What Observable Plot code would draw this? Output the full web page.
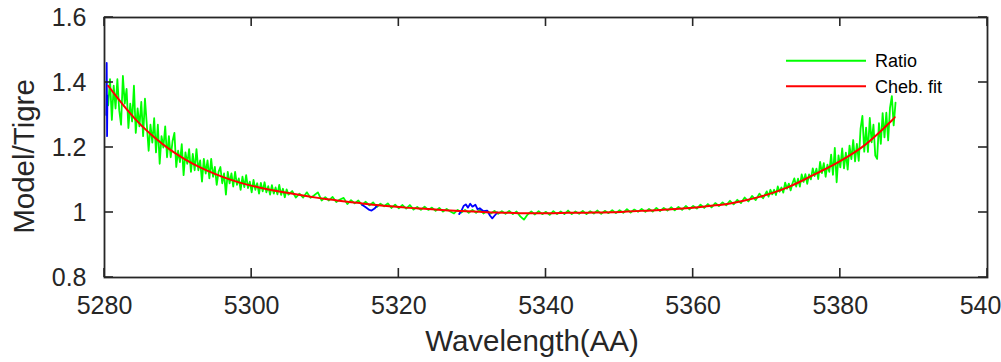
<!DOCTYPE html>
<html>
<head>
<meta charset="utf-8">
<script src="https://cdn.jsdelivr.net/npm/d3@7"></script>
<script src="https://cdn.jsdelivr.net/npm/@observablehq/plot@0.6"></script>
<style>
  html, body { margin: 0; padding: 0; background: #fff; overflow: hidden; }
  #chart { width: 1001px; height: 362px; }
</style>
</head>
<body>
<div id="chart"></div>
<script>
// ---- tick labels / axes ----
const xTicks = [5280, 5300, 5320, 5340, 5360, 5380, 5400];
const yTicks = [0.8, 1.0, 1.2, 1.4, 1.6];
const xLabel = "Wavelength(AA)";
const yLabel = "Model/Tigre";
const seriesNames = ["Ratio", "Cheb. fit"];

// ---- Ratio (green), three sampled stretches ----
// blue-end stretch: 5280.5 .. 5305.0, every 0.25 AA
const ratioLeftStart = 5280.5, ratioLeftStep = 0.25;
const ratioLeft = [
  1.33, 1.41, 1.285, 1.39, 1.32, 1.41, 1.315, 1.27, 1.42, 1.335,     // 5280.5
  1.38, 1.26, 1.335, 1.28, 1.39, 1.245, 1.32, 1.265, 1.34, 1.235,    // 5283.0
  1.35, 1.27, 1.19, 1.27, 1.215, 1.29, 1.185, 1.27, 1.15, 1.235,     // 5285.5
  1.20, 1.265, 1.17, 1.235, 1.17, 1.22, 1.245, 1.14, 1.19, 1.155,    // 5288.0
  1.21, 1.115, 1.185, 1.15, 1.195, 1.125, 1.18, 1.13, 1.195, 1.13,   // 5290.5
  1.16, 1.095, 1.165, 1.12, 1.16, 1.105, 1.165, 1.11, 1.14, 1.085,   // 5293.0
  1.125, 1.14, 1.09, 1.12, 1.055, 1.125, 1.09, 1.12, 1.08, 1.125,    // 5295.5
  1.085, 1.105, 1.07, 1.11, 1.078, 1.115, 1.075, 1.095, 1.062, 1.10, // 5298.0
  1.07, 1.09, 1.058, 1.091, 1.065, 1.093, 1.062, 1.081, 1.055, 1.084, // 5300.5
  1.058, 1.077, 1.056, 1.085, 1.054, 1.073, 1.047, 1.071, 1.055      // 5303.0
];
// middle stretch: 5305.5 .. 5369.5, every 0.5 AA
const ratioMidStart = 5305.5, ratioMidStep = 0.5;
const ratioMid = [
  1.066, 1.046, 1.058, 1.046, 1.062, 1.045, 1.053, 1.062, 1.037, 1.047, // 5305.5
  1.037, 1.048, 1.032, 1.040, 1.045, 1.026, 1.038, 1.028, 1.037, 1.023, // 5310.5
  1.033, 1.022, 1.031, 1.017, 1.027, 1.019, 1.028, 1.014, 1.024, 1.013, // 5315.5
  1.023, 1.012, 1.023, 1.009, 1.017, 1.008, 1.018, 1.008, 1.015, 1.005, // 5320.5
  1.014, 1.003, 1.011, 1.003, 0.997, 1.008, 1.0, 1.008, 0.999, 1.008,   // 5325.5
  0.999, 1.008, 0.997, 1.005, 0.997, 1.005, 0.996, 1.004, 0.996, 1.005, // 5330.5
  0.995, 1.003, 0.988, 0.978, 0.994, 1.003, 0.994, 1.004, 0.995, 1.002, // 5335.5
  0.993, 1.004, 0.995, 1.003, 0.995, 1.006, 0.995, 1.003, 0.996, 1.005, // 5340.5
  0.995, 1.004, 0.997, 1.006, 0.996, 1.005, 0.998, 1.007, 0.998, 1.007, // 5345.5
  0.999, 1.010, 1.0, 1.009, 1.002, 1.011, 1.002, 1.011, 1.003, 1.014,   // 5350.5
  1.004, 1.014, 1.006, 1.016, 1.007, 1.017, 1.008, 1.020, 1.010, 1.020, // 5355.5
  1.012, 1.024, 1.014, 1.026, 1.016, 1.029, 1.020, 1.031, 1.022, 1.036, // 5360.5
  1.025, 1.039, 1.029, 1.046, 1.034, 1.051, 1.038, 1.058, 1.044         // 5365.5
];
// red-end stretch: 5370.0 .. 5387.5, every 0.25 AA
const ratioRightStart = 5370.0, ratioRightStep = 0.25;
const ratioRight = [
  1.065, 1.049, 1.07, 1.056, 1.07, 1.054, 1.08, 1.064, 1.077, 1.061,   // 5370.0
  1.092, 1.073, 1.089, 1.068, 1.09, 1.105, 1.08, 1.104, 1.08, 1.117,   // 5372.5
  1.094, 1.118, 1.088, 1.117, 1.102, 1.136, 1.112, 1.135, 1.103, 1.156, // 5375.0
  1.121, 1.152, 1.11, 1.147, 1.125, 1.178, 1.116, 1.199, 1.093, 1.176, // 5377.5
  1.139, 1.197, 1.136, 1.184, 1.132, 1.206, 1.164, 1.223, 1.157, 1.211, // 5380.0
  1.159, 1.258, 1.297, 1.187, 1.261, 1.186, 1.291, 1.216, 1.27, 1.175, // 5382.5
  1.165, 1.275, 1.211, 1.306, 1.231, 1.307, 1.222, 1.322, 1.358, 1.268, // 5385.0
  1.338                                                                 // 5387.5
];

// ---- Masked points (blue), NaN separates segments ----
const maskWl  = [5280.25, 5280.3, 5280.35, 5280.4, NaN,
                 5315.0, 5315.5, 5316.0, 5316.3, 5316.7, 5317.0, NaN,
                 5328.2, 5328.5, 5328.8, 5329.1, 5329.4, 5329.7, 5330.0, 5330.4, 5330.7,
                 5331.0, 5331.5, 5332.0, 5332.4, 5332.7, 5333.0, 5333.4];
const maskVal = [1.30, 1.46, 1.235, 1.36, NaN,
                 1.024, 1.016, 1.008, 1.006, 1.012, 1.02, NaN,
                 0.995, 1.005, 1.02, 1.025, 1.015, 1.027, 1.018, 1.024, 1.01,
                 1.013, 1.004, 1.006, 0.99, 0.982, 0.99, 1.0];

// ---- Chebyshev fit (red) ----
const fitWl  = [5280.5, 5281, 5283, 5285, 5287, 5289, 5291, 5293, 5295, 5297, 5299,
                5301, 5303, 5305, 5307, 5309, 5311, 5313, 5315, 5317, 5319,
                5321, 5323, 5325, 5327, 5329, 5331, 5333, 5335, 5337, 5339,
                5341, 5343, 5345, 5347, 5349, 5351, 5353, 5355, 5357, 5359,
                5361, 5363, 5365, 5367, 5369, 5371, 5373, 5375, 5377, 5379,
                5381, 5383, 5385, 5387, 5387.4];
const fitVal = [1.39, 1.375, 1.318, 1.268, 1.227, 1.192, 1.163, 1.139, 1.119, 1.102, 1.088,
                1.077, 1.068, 1.060, 1.052, 1.045, 1.039, 1.033, 1.028, 1.023, 1.019,
                1.015, 1.012, 1.009, 1.006, 1.004, 1.002, 1.000, 0.999, 0.998, 0.998,
                0.998, 0.999, 0.999, 1.000, 1.001, 1.003, 1.005, 1.007, 1.010, 1.013,
                1.017, 1.022, 1.028, 1.037, 1.048, 1.062, 1.079, 1.100, 1.123, 1.146,
                1.172, 1.202, 1.240, 1.283, 1.293];

const ratio = [
  ...ratioLeft.map((v, i) => ({wl: ratioLeftStart + i * ratioLeftStep, v})),
  ...ratioMid.map((v, i) => ({wl: ratioMidStart + i * ratioMidStep, v})),
  ...ratioRight.map((v, i) => ({wl: ratioRightStart + i * ratioRightStep, v}))
];
const mask = maskWl.map((w, i) => ({wl: w, v: maskVal[i]}));
const fit = fitWl.map((w, i) => ({wl: w, v: fitVal[i]}));

const ink = "#262626";
const fmtY = d => (Math.abs(d - 1) < 1e-9 ? "1" : d.toFixed(1));

const W = 1001, H = 362, mL = 104, mR = 14, mT = 17, mB = 85;
const tickLen = 9;

const chart = Plot.plot({
  width: W,
  height: H,
  marginLeft: mL,
  marginRight: mR,
  marginTop: mT,
  marginBottom: mB,
  style: {fontFamily: "Liberation Sans, Arial, sans-serif", fontSize: "25px", color: ink, background: "#fff", overflow: "visible"},
  x: {domain: [5280, 5400], axis: null},
  y: {domain: [0.8, 1.6], axis: null},
  marks: [
    Plot.line(ratio, {x: "wl", y: "v", stroke: "#00ff00", strokeWidth: 1.8}),
    Plot.line(mask, {x: "wl", y: "v", stroke: "#0000ff", strokeWidth: 1.8}),
    Plot.line(fit, {x: "wl", y: "v", stroke: "#ff0000", strokeWidth: 2, curve: "natural"}),
    Plot.frame({stroke: ink, strokeWidth: 1.8}),
    // tick labels
    Plot.text(xTicks, {x: d => d, text: d => String(d), frameAnchor: "bottom", dy: 19, lineAnchor: "top", fontSize: 25, fill: ink}),
    Plot.text(yTicks, {y: d => d, text: fmtY, frameAnchor: "left", dx: -18, textAnchor: "end", lineAnchor: "middle", fontSize: 25, fill: ink}),
    // axis titles
    Plot.text([xLabel], {frameAnchor: "bottom", dx: -14, dy: 64, fontSize: 29.5, lineAnchor: "middle", textAnchor: "middle", fill: ink}),
    Plot.text([yLabel], {frameAnchor: "left", dx: -80, dy: 9, fontSize: 29.5, rotate: -90, lineAnchor: "middle", textAnchor: "middle", fill: ink})
  ]
});

document.getElementById("chart").appendChild(chart);

// ---- inward tick marks on all four sides, placed with the plot's own scales ----
const sx = chart.scale("x"), sy = chart.scale("y");
const svg = d3.select(chart);
const frameLeft = mL, frameRight = W - mR, frameTop = mT, frameBottom = H - mB;
const tg = svg.append("g").attr("stroke", ink).attr("stroke-width", 1.6);
xTicks.forEach(t => {
  const px = sx.apply(t);
  tg.append("line").attr("x1", px).attr("x2", px).attr("y1", frameBottom).attr("y2", frameBottom - tickLen);
  tg.append("line").attr("x1", px).attr("x2", px).attr("y1", frameTop).attr("y2", frameTop + tickLen);
});
yTicks.forEach(t => {
  const py = sy.apply(t);
  tg.append("line").attr("y1", py).attr("y2", py).attr("x1", frameLeft).attr("x2", frameLeft + tickLen);
  tg.append("line").attr("y1", py).attr("y2", py).attr("x1", frameRight).attr("x2", frameRight - tickLen);
});

// ---- legend inside axes (top-right) ----
const leg = svg.append("g")
  .attr("font-family", "Liberation Sans, Arial, sans-serif")
  .attr("font-size", 18)
  .attr("text-anchor", "start");
const legColors = ["#00ff00", "#ff0000"];
seriesNames.forEach((name, i) => {
  const ly = 60.7 + i * 25.5;
  leg.append("line").attr("x1", 786).attr("x2", 866).attr("y1", ly).attr("y2", ly)
     .attr("stroke", legColors[i]).attr("stroke-width", 2);
  leg.append("text").attr("x", 875).attr("y", ly).attr("dy", "0.35em")
     .attr("text-anchor", "start").attr("fill", "#000").text(name);
});
</script>
</body>
</html>
